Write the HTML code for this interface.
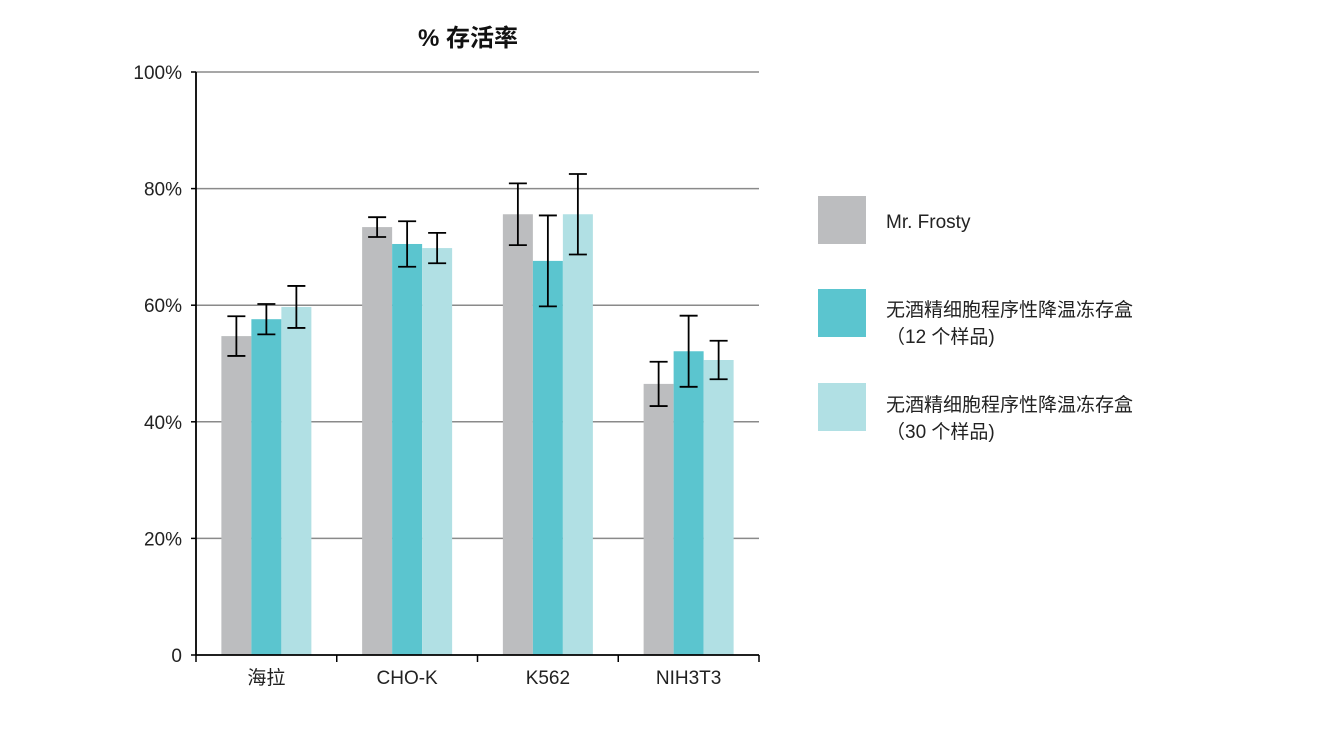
<!DOCTYPE html>
<html><head><meta charset="utf-8">
<style>
body{margin:0;background:#fff;}
svg{display:block;font-family:"Liberation Sans","Noto Sans CJK SC",sans-serif;}
</style></head>
<body>
<svg id="chart" width="1327" height="735" viewBox="0 0 1327 735">
<text x="468" y="46" text-anchor="middle" font-size="24" font-weight="bold" fill="#111">% 存活率</text>
<g id="grid"></g><g id="bars"></g><g id="axes"></g>
<g>
<rect x="818" y="196" width="48" height="48" fill="#bcbdbf"/>
<text x="886" y="228" font-size="19" fill="#222">Mr. Frosty</text>
<rect x="818" y="289" width="48" height="48" fill="#5bc5cf"/>
<text x="886" y="316" font-size="19" fill="#222">无酒精细胞程序性降温冻存盒</text>
<text x="886" y="343" font-size="19" fill="#222">（12 个样品)</text>
<rect x="818" y="383" width="48" height="48" fill="#b1e0e4"/>
<text x="886" y="411" font-size="19" fill="#222">无酒精细胞程序性降温冻存盒</text>
<text x="886" y="438" font-size="19" fill="#222">（30 个样品)</text>
</g>
</svg>
<script>
const categories=["海拉","CHO-K","K562","NIH3T3"];
const mrFrosty=[54.7,73.4,75.6,46.5];
const box12=[57.6,70.5,67.6,52.1];
const box30=[59.7,69.8,75.6,50.6];
const errFrosty=[3.4,1.7,5.3,3.8];
const err12=[2.6,3.9,7.8,6.1];
const err30=[3.6,2.6,6.9,3.3];
const yTicks=[0,20,40,60,80,100];
const yTickLabels=["0","20%","40%","60%","80%","100%"];

const NS="http://www.w3.org/2000/svg";
const x0=196,x1=759,yTop=72,yBot=655;
const band=(x1-x0)/categories.length;
const y=v=>yBot-(v/100)*(yBot-yTop);
const bx=(i,s)=>x0+band*i+band/2-45+30*s;
function mk(tag,attrs,parent){const e=document.createElementNS(NS,tag);for(const k in attrs)e.setAttribute(k,attrs[k]);parent.appendChild(e);return e;}
const grid=document.getElementById('grid'),bars=document.getElementById('bars'),axes=document.getElementById('axes');
yTicks.forEach((t,i)=>{
 if(t>0){const l=mk('line',{x1:x0,x2:x1,y1:y(t),y2:y(t),stroke:'#8a8a8a','stroke-width':1.5},grid);
 
 }
 const tk=mk('line',{x1:x0-5,x2:x0,y1:y(t),y2:y(t),stroke:'#000','stroke-width':1.5},axes);
 
 
 const tx=mk('text',{x:x0-14,y:y(t)+7,'text-anchor':'end','font-size':19,fill:'#222'},axes);
 tx.textContent=yTickLabels[i];
 
 
});
const series=[[mrFrosty,errFrosty,'#bcbdbf','mr-frosty'],[box12,err12,'#5bc5cf','box-12'],[box30,err30,'#b1e0e4','box-30']];
categories.forEach((c,i)=>{
 series.forEach((s,si)=>{
  const v=s[0][i],e=s[1][i],x=bx(i,si);
  const r=mk('rect',{x:x,y:y(v),width:30,height:yBot-y(v),fill:s[2]},bars);
  
  
  const cx=x+15;
  const g=mk('g',{stroke:'#000','stroke-width':1.8},bars);
  
  
  mk('line',{x1:cx,x2:cx,y1:y(v+e),y2:y(v-e)},g);
  mk('line',{x1:cx-9,x2:cx+9,y1:y(v+e),y2:y(v+e)},g);
  mk('line',{x1:cx-9,x2:cx+9,y1:y(v-e),y2:y(v-e)},g);
 });
 const t=mk('text',{x:x0+band*i+band/2,y:684,'text-anchor':'middle','font-size':19,fill:'#222'},axes);
 t.textContent=c;
 
 
});
for(let i=0;i<=categories.length;i++){
 const tk=mk('line',{x1:x0+band*i,x2:x0+band*i,y1:yBot,y2:yBot+7,stroke:'#000','stroke-width':1.5},axes);
 
 
}
const ya=mk('line',{x1:x0,x2:x0,y1:yTop,y2:yBot,stroke:'#000','stroke-width':1.8},axes);


const xa=mk('line',{x1:x0,x2:x1,y1:yBot,y2:yBot,stroke:'#000','stroke-width':1.8},axes);


</script>
</body></html>
